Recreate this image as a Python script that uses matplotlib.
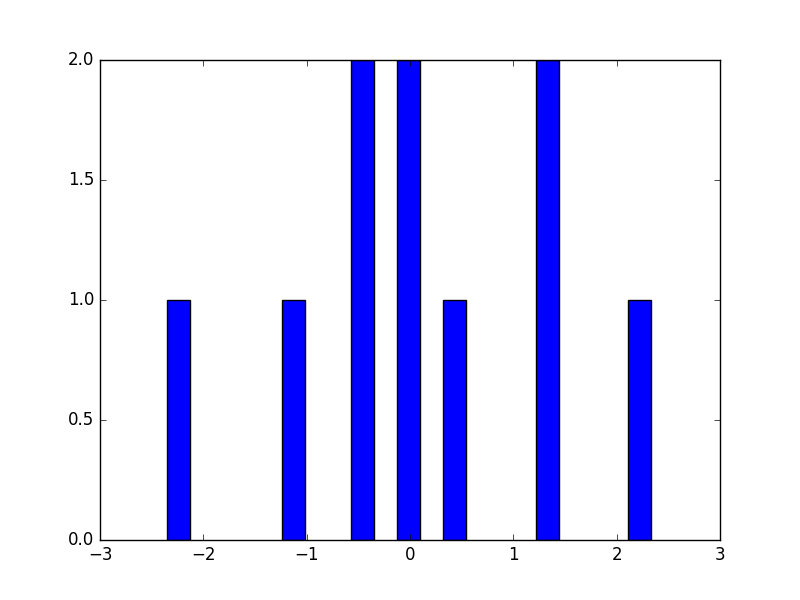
import numpy as np
import matplotlib
matplotlib.use("Agg")
import matplotlib.pyplot as plt

plt.style.use("classic")

# bin centres and counts
centers = np.array([-2.243, -1.124, -0.459, -0.015, 0.432, 1.332, 2.219])
counts = np.array([1, 1, 2, 2, 1, 2, 1])
width = 0.223

fig = plt.figure(figsize=(8, 6), dpi=100)
ax = fig.add_subplot(111)
ax.bar(centers, counts, width=width, align="center", color="blue", edgecolor="black")
ax.set_xlim(-3, 3)
ax.set_ylim(0, 2)
fig.savefig("out.png", dpi=100, facecolor="white")
